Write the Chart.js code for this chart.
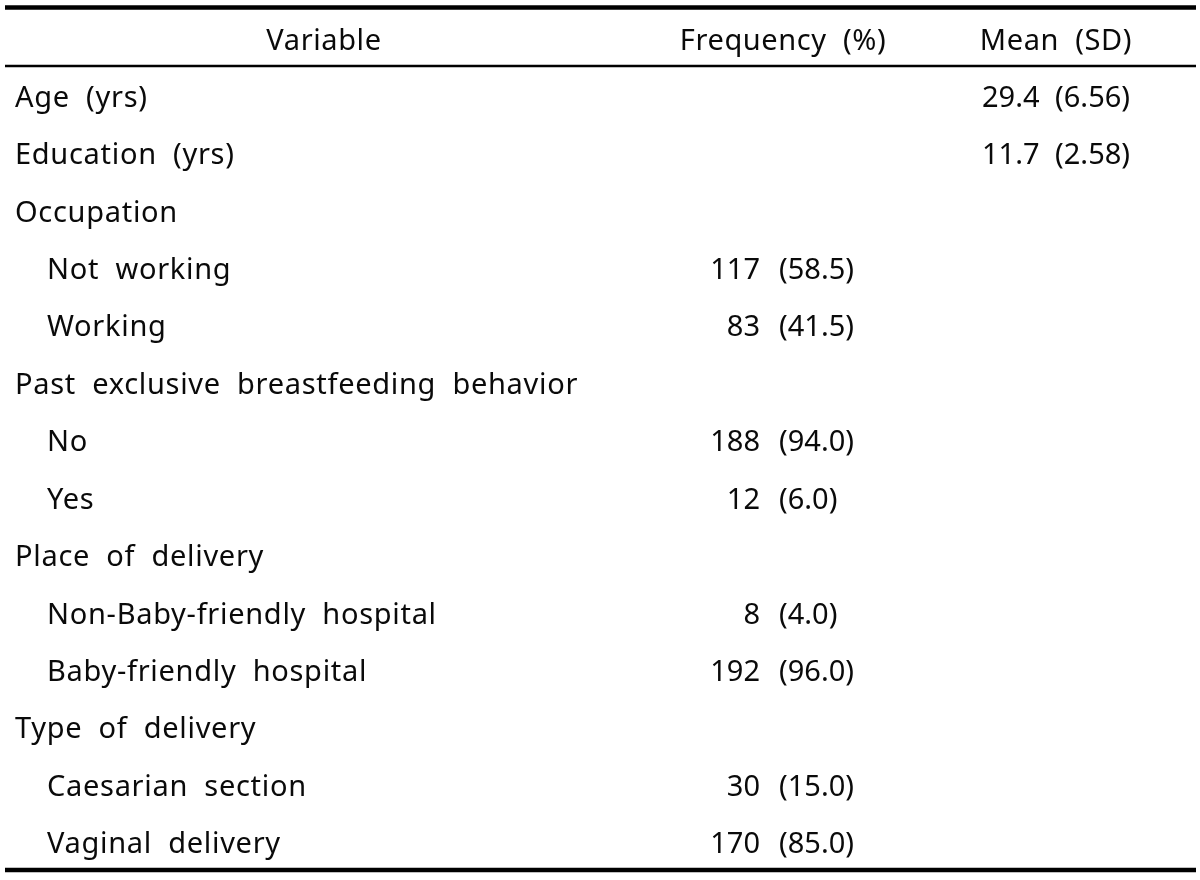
<!DOCTYPE html>
<html>
<head>
<meta charset="utf-8">
<title>Participant characteristics</title>
<script src="https://cdn.jsdelivr.net/npm/chart.js@4/dist/chart.umd.min.js"></script>
<style>
  html, body { margin: 0; padding: 0; background: #fff; }
  #wrap { width: 1200px; height: 880px; }
</style>
</head>
<body>
<div id="wrap"><canvas id="tableChart" width="1200" height="880"></canvas></div>
<script>
// ── table content ──
const columnHeaders = ['Variable', 'Frequency (%)', 'Mean (SD)'];

const rowLabels = [
  'Age (yrs)', 'Education (yrs)', 'Occupation', 'Not working', 'Working',
  'Past exclusive breastfeeding behavior', 'No', 'Yes', 'Place of delivery',
  'Non-Baby-friendly hospital', 'Baby-friendly hospital', 'Type of delivery',
  'Caesarian section', 'Vaginal delivery'
];
// true = sub-category (indented under the group above it)
const isSubItem = [false, false, false, true, true, false, true, true, false, true, true, false, true, true];

const freqCounts   = [null, null, null, 117, 83, null, 188, 12, null, 8, 192, null, 30, 170];
const freqPercents = [null, null, null, 58.5, 41.5, null, 94.0, 6.0, null, 4.0, 96.0, null, 15.0, 85.0];
const meanValues   = [29.4, 11.7, null, null, null, null, null, null, null, null, null, null, null, null];
const sdValues     = [6.56, 2.58, null, null, null, null, null, null, null, null, null, null, null, null];

// ── layout / style ──
const FONT = '29px "Noto Sans", "Open Sans", sans-serif';
const TEXT = '#0a0a0a';
const col = { label: 15, indent: 47, count: 760, pct: 779, mean: 982 };
const headerX = [324, 783, 1056];

const tablePlugin = {
  id: 'tableText',
  afterDraw(chart) {
    const { ctx, chartArea, scales } = chart;
    const y = scales.y;
    ctx.save();
    ctx.font = FONT;
    ctx.fillStyle = TEXT;
    if ('wordSpacing' in ctx) ctx.wordSpacing = '8px';
    ctx.textBaseline = 'alphabetic';

    // rules
    ctx.strokeStyle = '#000';
    ctx.lineWidth = 4.5;
    ctx.beginPath(); ctx.moveTo(5, 7.5); ctx.lineTo(1196, 7.5); ctx.stroke();
    ctx.beginPath(); ctx.moveTo(5, chartArea.bottom - 4); ctx.lineTo(1196, chartArea.bottom - 4); ctx.stroke();
    ctx.lineWidth = 2.5;
    ctx.beginPath(); ctx.moveTo(5, chartArea.top - 4); ctx.lineTo(1196, chartArea.top - 4); ctx.stroke();

    // header
    if ('letterSpacing' in ctx) ctx.letterSpacing = '0.6px';
    ctx.textAlign = 'center';
    columnHeaders.forEach((h, i) => ctx.fillText(h, headerX[i], 50));

    // body rows
    rowLabels.forEach((label, i) => {
      const base = y.getPixelForValue(i) + 8;
      if ('letterSpacing' in ctx) ctx.letterSpacing = '0.7px';
      ctx.textAlign = 'left';
      ctx.fillText(label, isSubItem[i] ? col.indent : col.label, base);
      if ('letterSpacing' in ctx) ctx.letterSpacing = '0px';
      if (freqCounts[i] != null) {
        ctx.textAlign = 'right';
        ctx.fillText(String(freqCounts[i]), col.count, base);
        ctx.textAlign = 'left';
        ctx.fillText('(' + freqPercents[i].toFixed(1) + ')', col.pct, base);
      }
      if (meanValues[i] != null) {
        ctx.textAlign = 'left';
        ctx.fillText(meanValues[i].toFixed(1) + ' (' + sdValues[i].toFixed(2) + ')', col.mean, base);
      }
    });
    ctx.restore();
  }
};

new Chart(document.getElementById('tableChart'), {
  type: 'scatter',
  data: {
    datasets: [{
      data: rowLabels.map((l, i) => ({ x: 0, y: i })),
      pointRadius: 0
    }]
  },
  options: {
    responsive: false,
    animation: false,
    events: [],
    layout: { padding: { top: 70, bottom: 6, left: 0, right: 0 } },
    plugins: { legend: { display: false }, tooltip: { enabled: false } },
    scales: {
      x: { display: false, min: 0, max: 1 },
      y: {
        type: 'category',
        labels: rowLabels.map((l, i) => i),
        offset: true,
        display: false
      }
    }
  },
  plugins: [tablePlugin]
});
</script>
</body>
</html>
